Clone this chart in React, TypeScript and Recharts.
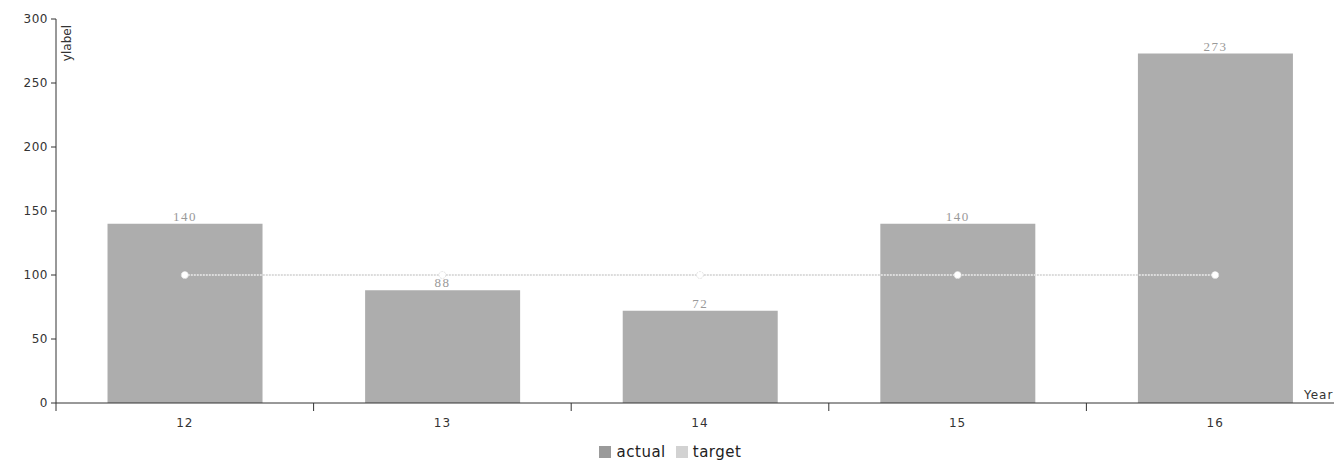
import React from 'react';
import { ComposedChart, Bar, Line, XAxis, YAxis, Legend, LabelList } from 'recharts';

const categories = ['12', '13', '14', '15', '16'];
const actualValues = [140, 88, 72, 140, 273];
const targetValues = [100, 100, 100, 100, 100];
const yTicks = [0, 50, 100, 150, 200, 250, 300];

const data = categories.map((c, i) => ({ year: c, actual: actualValues[i], target: targetValues[i] }));

const SANS = 'DejaVu Sans, Arial, sans-serif';

const XTick = (props: any) => {
  const { x, y, payload } = props;
  const off = payload?.offset ?? 0;
  return (
    <g>
      <line x1={x - off} x2={x - off} y1={y} y2={y + 8} stroke="#333" strokeWidth={1} />
      <text x={x} y={y + 24} textAnchor="middle" fontSize={12} fontFamily={SANS} fill="#333" letterSpacing={1}>
        {payload.value}
      </text>
    </g>
  );
};

const YLabel = (props: any) => {
  const vb = props.viewBox || {};
  const x = (vb.x ?? 0) + (vb.width ?? 0) + 15;
  const y = (vb.y ?? 0) + 6;
  return (
    <text x={x} y={y} transform={`rotate(-90 ${x} ${y})`} textAnchor="end" fontSize={12} fontFamily={SANS} fill="#333">
      ylabel
    </text>
  );
};

const XLabel = (props: any) => {
  const vb = props.viewBox || {};
  return (
    <text x={1296} y={(vb.y ?? 0) - 4} textAnchor="start" fontSize={12} fontFamily={SANS} fill="#333" letterSpacing={1}>
      Year
    </text>
  );
};

const LegendContent = () => (
  <div style={{ height: 30, display: 'flex', justifyContent: 'center', alignItems: 'center', paddingTop: 10, boxSizing: 'border-box', fontFamily: SANS, fontSize: 15, color: '#222' }}>
    <span style={{ display: 'inline-block', width: 12, height: 12, background: '#9a9a9a', marginRight: 6 }} />
    <span style={{ marginRight: 10, letterSpacing: 0.5 }}>actual</span>
    <span style={{ display: 'inline-block', width: 12, height: 12, background: '#d2d2d2', marginRight: 5 }} />
    <span style={{ letterSpacing: 0.5 }}>target</span>
  </div>
);

export default function App() {
  return (
    <div style={{ position: 'fixed', left: 8, top: 8, width: 1326, height: 455, overflow: 'hidden', background: '#fff' }}>
      <ComposedChart
        width={1350}
        height={454}
        data={data}
        margin={{ top: 11, right: 14, left: 0, bottom: 0 }}
        barCategoryGap="20%"
      >
        <XAxis
          dataKey="year"
          tick={<XTick />}
          tickLine={false}
          tickSize={0}
          tickMargin={0}
          height={29}
          axisLine={{ stroke: '#333' }}
          interval={0}
          label={<XLabel />}
        />
        <YAxis
          domain={[0, 300]}
          ticks={yTicks}
          width={48}
          tickSize={5}
          tickMargin={3}
          tickLine={{ stroke: '#333' }}
          axisLine={{ stroke: '#333' }}
          tick={{ fontSize: 12, fontFamily: SANS, fill: '#333', letterSpacing: 0.5 }}
          label={<YLabel />}
        />
        <Legend verticalAlign="bottom" height={30} content={<LegendContent />} wrapperStyle={{ left: 0, width: 1324 }} />
        <Bar dataKey="actual" fill="#adadad" isAnimationActive={false}>
          <LabelList dataKey="actual" position="top" offset={3} fill="#999" fontSize={13} fontFamily="Liberation Serif, serif" letterSpacing={1.5} />
        </Bar>
        <Line
          dataKey="target"
          type="linear"
          stroke="#dcdcdc"
          strokeWidth={2}
          strokeDasharray="2 1"
          dot={{ r: 3.5, fill: '#fff', stroke: '#e2e2e2', strokeWidth: 1 }}
          isAnimationActive={false}
        />
      </ComposedChart>
    </div>
  );
}
